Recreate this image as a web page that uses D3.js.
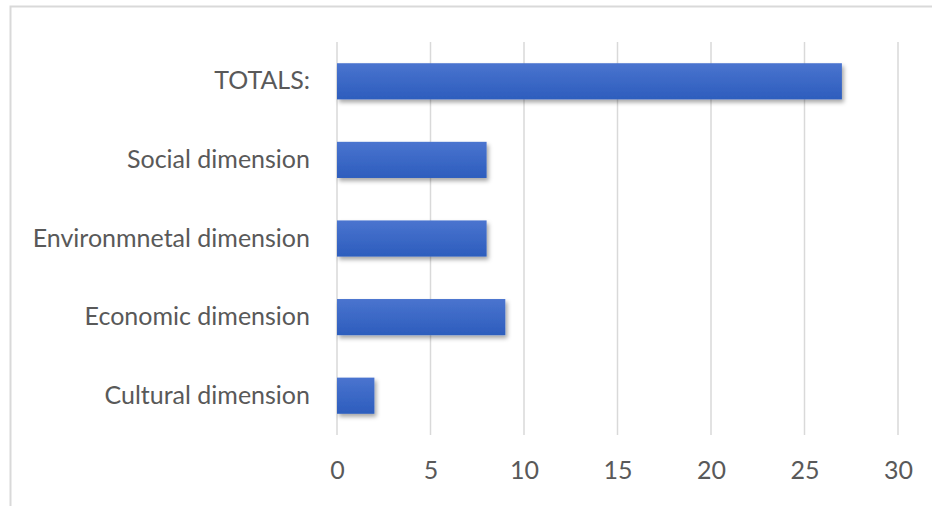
<!DOCTYPE html>
<html>
<head>
<meta charset="utf-8">
<script src="https://cdn.jsdelivr.net/npm/d3@7"></script>
<style>
  body { margin: 0; background: #fff; }
  text { font-family: Lato, "Open Sans", sans-serif; fill: #595959; }
</style>
</head>
<body>
<svg id="chart"></svg>
<script>
var width = 932;
var height = 506;

var categories = ["TOTALS:", "Social dimension", "Environmnetal dimension", "Economic dimension", "Cultural dimension"];
var values = [27, 8, 8, 9, 2];
var ticks = [0, 5, 10, 15, 20, 25, 30];

var margin = { top: 42, right: 34, bottom: 71, left: 337 };

var svg = d3.select("#chart")
    .attr("width", width)
    .attr("height", height);

var defs = svg.append("defs");

var grad = defs.append("linearGradient")
    .attr("id", "barGrad")
    .attr("x1", 0).attr("y1", 0).attr("x2", 0).attr("y2", 1);
grad.append("stop").attr("offset", "0%").attr("stop-color", "#4a74cf");
grad.append("stop").attr("offset", "100%").attr("stop-color", "#2d5dbd");

var shadow = defs.append("filter")
    .attr("id", "shadow")
    .attr("x", "-10%").attr("y", "-20%")
    .attr("width", "130%").attr("height", "160%");
shadow.append("feDropShadow")
    .attr("dx", 2).attr("dy", 3)
    .attr("stdDeviation", 2)
    .attr("flood-color", "#000")
    .attr("flood-opacity", 0.35);

// outer frame (left and top edges visible)
svg.append("rect")
    .attr("x", 10.5).attr("y", 6.5)
    .attr("width", 940).attr("height", 520)
    .attr("fill", "none")
    .attr("stroke", "#d9d9d9")
    .attr("stroke-width", 2);

var x = d3.scaleLinear()
    .domain([0, 30])
    .range([margin.left, width - margin.right]);

var y = d3.scaleBand()
    .domain(categories)
    .range([margin.top, height - margin.bottom])
    .paddingInner(0.54)
    .paddingOuter(0.27);

// gridlines
svg.append("g")
    .selectAll("line")
    .data(ticks)
  .enter().append("line")
    .attr("x1", function(d) { return x(d); })
    .attr("x2", function(d) { return x(d); })
    .attr("y1", margin.top)
    .attr("y2", height - margin.bottom)
    .attr("stroke", "#d9d9d9")
    .attr("stroke-width", 1.5);

// bars
svg.append("g")
    .selectAll("rect")
    .data(values)
  .enter().append("rect")
    .attr("x", x(0))
    .attr("y", function(d, i) { return y(categories[i]); })
    .attr("width", function(d) { return x(d) - x(0); })
    .attr("height", y.bandwidth())
    .attr("fill", "url(#barGrad)")
    .attr("filter", "url(#shadow)");

// category labels
var yAxis = svg.append("g")
    .attr("transform", "translate(" + (margin.left - 27) + ",0)")
    .call(d3.axisLeft(y).tickSize(0).tickPadding(0));
yAxis.select(".domain").remove();
yAxis.selectAll("text")
    .attr("font-size", 25)
    .attr("fill", "#606060")
    .style("font-family", "Lato, 'Open Sans', sans-serif");

// value labels
var xAxis = svg.append("g")
    .attr("transform", "translate(0," + (height - margin.bottom) + ")")
    .call(d3.axisBottom(x).tickValues(ticks).tickSize(0).tickPadding(26));
xAxis.select(".domain").remove();
xAxis.selectAll("text")
    .attr("font-size", 25)
    .attr("fill", "#606060")
    .style("font-family", "Lato, 'Open Sans', sans-serif");
</script>
</body>
</html>
